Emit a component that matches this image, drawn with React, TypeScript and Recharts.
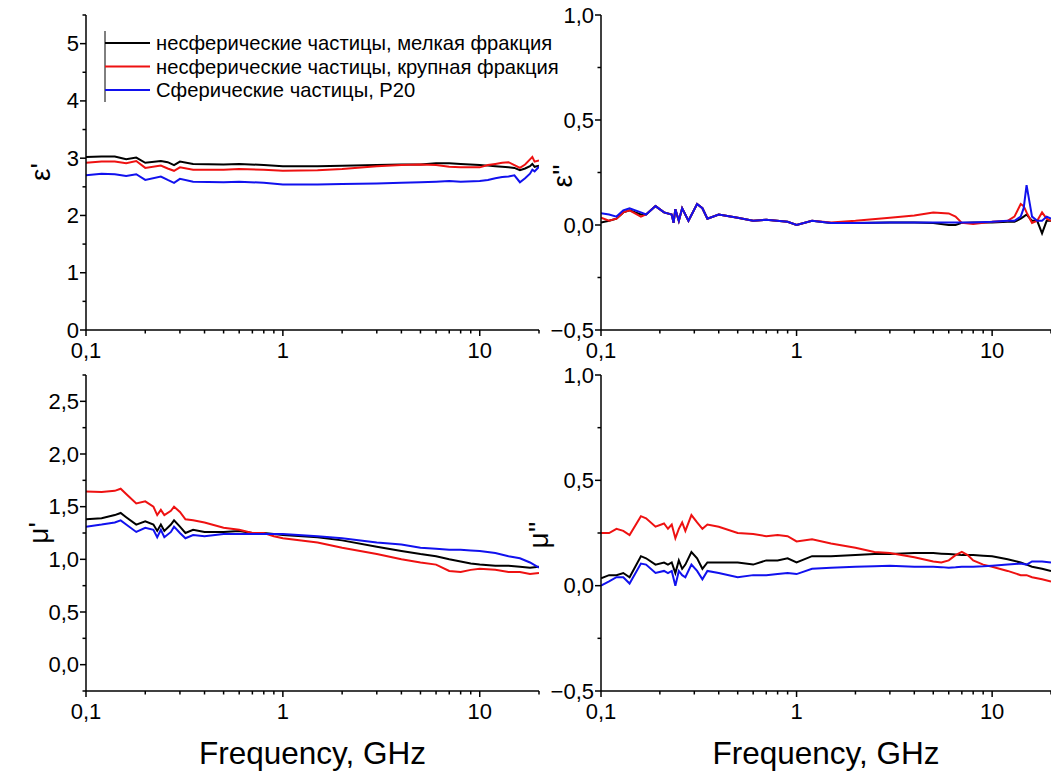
import { LineChart, Line, XAxis, YAxis, Legend } from 'recharts';

const FONT = '"Liberation Sans", Arial, sans-serif';
const W = 1051;
const H = 771;

const SERIES_NAMES = [
  'несферические частицы, мелкая фракция',
  'несферические частицы, крупная фракция',
  'Сферические частицы, P20',
];
const SERIES_COLORS = ['#000000', '#ee1111', '#1111ee'];

const X_MAJOR = [0.1, 1, 10];
const X_MINOR = [0.2, 0.3, 0.4, 0.5, 0.6, 0.7, 0.8, 0.9, 2, 3, 4, 5, 6, 7, 8, 9, 20];

// ε' (real permittivity)
const EPS1_FREQ = [0.1, 0.12, 0.14, 0.16, 0.18, 0.2, 0.24, 0.26, 0.28, 0.3, 0.35, 0.5, 0.6, 0.8, 1, 1.5, 2, 3, 4, 5, 6, 7, 8, 10, 11, 12, 13, 14, 15, 16, 17, 18, 18.5, 19, 20];
const EPS1_FINE = [3.02, 3.03, 3.03, 2.98, 3.01, 2.92, 2.95, 2.93, 2.88, 2.94, 2.9, 2.89, 2.9, 2.88, 2.86, 2.86, 2.87, 2.88, 2.89, 2.89, 2.91, 2.91, 2.9, 2.88, 2.87, 2.86, 2.85, 2.84, 2.83, 2.79, 2.82, 2.86, 2.9, 2.85, 2.87];
const EPS1_COARSE = [2.92, 2.94, 2.94, 2.91, 2.95, 2.83, 2.87, 2.82, 2.78, 2.84, 2.8, 2.8, 2.81, 2.8, 2.78, 2.79, 2.81, 2.86, 2.88, 2.89, 2.88, 2.85, 2.84, 2.84, 2.88, 2.9, 2.92, 2.93, 2.88, 2.83, 2.89, 2.98, 3.02, 2.94, 2.96];
const EPS1_SPHERE = [2.7, 2.73, 2.72, 2.69, 2.72, 2.62, 2.68, 2.62, 2.57, 2.64, 2.59, 2.58, 2.59, 2.57, 2.54, 2.54, 2.55, 2.56, 2.57, 2.58, 2.59, 2.6, 2.59, 2.6, 2.62, 2.65, 2.67, 2.68, 2.7, 2.58, 2.65, 2.73, 2.8, 2.77, 2.85];

// ε'' (imaginary permittivity)
const EPS2_FREQ = [0.1, 0.11, 0.12, 0.13, 0.14, 0.16, 0.17, 0.19, 0.21, 0.23, 0.235, 0.24, 0.25, 0.26, 0.28, 0.31, 0.33, 0.35, 0.4, 0.5, 0.6, 0.7, 0.9, 1, 1.2, 1.5, 2, 3, 4, 5, 6, 6.5, 7, 8, 10, 12, 13, 14, 14.5, 15, 16, 17, 18, 19, 20];
const EPS2_FINE = [0.012, 0.02, 0.03, 0.06, 0.07, 0.05, 0.05, 0.09, 0.06, 0.05, 0.01, 0.075, 0.02, 0.08, 0.02, 0.1, 0.08, 0.03, 0.05, 0.035, 0.02, 0.025, 0.015, 0.0, 0.02, 0.01, 0.01, 0.012, 0.012, 0.01, 0.0, 0.0, 0.01, 0.012, 0.012, 0.015, 0.015, 0.03, 0.04, 0.05, 0.02, 0.02, -0.04, 0.02, 0.02];
const EPS2_COARSE = [0.035, 0.02, 0.03, 0.06, 0.07, 0.04, 0.05, 0.09, 0.06, 0.05, 0.01, 0.075, 0.02, 0.08, 0.02, 0.1, 0.08, 0.03, 0.05, 0.035, 0.02, 0.025, 0.015, 0.0, 0.02, 0.012, 0.02, 0.035, 0.045, 0.06, 0.055, 0.04, 0.01, 0.005, 0.015, 0.02, 0.04, 0.1, 0.09, 0.06, 0.01, 0.02, 0.06, 0.03, 0.02];
const EPS2_SPHERE = [0.056, 0.05, 0.04, 0.07, 0.08, 0.06, 0.05, 0.09, 0.06, 0.05, 0.01, 0.075, 0.02, 0.08, 0.02, 0.1, 0.08, 0.03, 0.05, 0.035, 0.02, 0.025, 0.015, 0.0, 0.02, 0.01, 0.01, 0.012, 0.012, 0.012, 0.012, 0.012, 0.012, 0.012, 0.015, 0.02, 0.02, 0.04, 0.08, 0.19, 0.04, 0.02, 0.02, 0.04, 0.03];

// μ' (real permeability)
const MU1_FREQ = [0.1, 0.12, 0.14, 0.15, 0.16, 0.18, 0.2, 0.22, 0.23, 0.24, 0.25, 0.27, 0.28, 0.3, 0.32, 0.35, 0.4, 0.5, 0.6, 0.7, 0.8, 0.9, 1, 1.5, 2, 3, 4, 5, 6, 7, 8, 9, 10, 12, 14, 16, 18, 20];
const MU1_FINE = [1.38, 1.39, 1.42, 1.44, 1.4, 1.33, 1.36, 1.33, 1.27, 1.33, 1.27, 1.33, 1.37, 1.31, 1.25, 1.28, 1.26, 1.26, 1.27, 1.25, 1.25, 1.24, 1.23, 1.21, 1.18, 1.12, 1.08, 1.05, 1.03, 1.0, 0.98, 0.96, 0.95, 0.94, 0.94, 0.93, 0.92, 0.93];
const MU1_COARSE = [1.645, 1.64, 1.65, 1.67, 1.62, 1.53, 1.55, 1.5, 1.42, 1.47, 1.42, 1.46, 1.5, 1.45, 1.38, 1.37, 1.35, 1.3, 1.28, 1.25, 1.25, 1.22, 1.2, 1.16, 1.11, 1.05, 1.0, 0.97, 0.95, 0.89, 0.88, 0.9, 0.91, 0.9, 0.88, 0.88, 0.86, 0.87];
const MU1_SPHERE = [1.31, 1.33, 1.35, 1.37, 1.33, 1.26, 1.3, 1.28, 1.21, 1.28, 1.21, 1.26, 1.31, 1.25, 1.2, 1.23, 1.22, 1.24, 1.24, 1.24, 1.24, 1.24, 1.24, 1.22, 1.2, 1.16, 1.14, 1.11, 1.1, 1.09, 1.09, 1.085, 1.08, 1.06, 1.03, 1.01, 0.97, 0.92];

// μ'' (imaginary permeability)
const MU2_FREQ = [0.1, 0.11, 0.12, 0.13, 0.14, 0.16, 0.17, 0.19, 0.21, 0.22, 0.23, 0.24, 0.25, 0.26, 0.27, 0.29, 0.31, 0.33, 0.35, 0.4, 0.5, 0.6, 0.7, 0.8, 0.9, 1, 1.2, 1.5, 2, 2.5, 3, 4, 5, 5.5, 6, 6.5, 7, 7.5, 8, 9, 10, 12, 14, 15, 16, 18, 20];
const MU2_FINE = [0.035, 0.05, 0.05, 0.06, 0.04, 0.14, 0.13, 0.1, 0.11, 0.1, 0.11, 0.06, 0.12, 0.08, 0.1, 0.16, 0.13, 0.08, 0.11, 0.11, 0.11, 0.1, 0.12, 0.12, 0.13, 0.11, 0.14, 0.14, 0.145, 0.15, 0.15, 0.155, 0.155, 0.152, 0.15, 0.148, 0.145, 0.145, 0.145, 0.142, 0.14, 0.125, 0.11, 0.1, 0.09, 0.08, 0.07];
const MU2_COARSE = [0.25, 0.25, 0.27, 0.26, 0.24, 0.33, 0.32, 0.28, 0.295, 0.27, 0.29, 0.225, 0.27, 0.3, 0.26, 0.335, 0.3, 0.27, 0.29, 0.28, 0.25, 0.245, 0.235, 0.24, 0.235, 0.21, 0.22, 0.2, 0.18, 0.16, 0.155, 0.135, 0.115, 0.11, 0.12, 0.145, 0.16, 0.145, 0.12, 0.1, 0.09, 0.07, 0.05, 0.05, 0.04, 0.03, 0.02];
const MU2_SPHERE = [0.0, 0.02, 0.04, 0.04, 0.01, 0.105, 0.1, 0.06, 0.07, 0.06, 0.07, 0.0, 0.07, 0.05, 0.04, 0.1, 0.07, 0.03, 0.07, 0.06, 0.04, 0.05, 0.05, 0.055, 0.06, 0.055, 0.08, 0.085, 0.09, 0.092, 0.095, 0.09, 0.09, 0.088, 0.085, 0.087, 0.09, 0.09, 0.09, 0.092, 0.095, 0.1, 0.105, 0.1, 0.115, 0.115, 0.11];

interface Row {
  f: number;
  s0: number;
  s1: number;
  s2: number;
}

function buildRows(freq: number[], a: number[], b: number[], c: number[]): Row[] {
  return freq.map((f, i) => ({ f, s0: a[i], s1: b[i], s2: c[i] }));
}

function fmtX(v: number): string {
  return String(v).replace('.', ',');
}

function fmtY(v: number, digits: number): string {
  const s = Math.abs(v).toFixed(digits).replace('.', ',');
  return v < 0 ? `\u2212${s}` : s;
}

interface Plot {
  left: number;
  top: number;
  right: number;
  bottom: number;
}

function XTick(props: any) {
  const { x, payload, axisY } = props;
  const v = payload.value as number;
  const major = X_MAJOR.some((m) => Math.abs(m - v) < 1e-9);
  return (
    <g>
      <line x1={x} x2={x} y1={axisY} y2={axisY + (major ? 6 : 3.5)} stroke="#000" strokeWidth={1.5} />
      {major && (
        <text x={x} y={axisY + 28} textAnchor="middle" fontSize={22} fontFamily={FONT} fill="#000">
          {fmtX(v)}
        </text>
      )}
    </g>
  );
}

function YTick(props: any) {
  const { y, payload, axisX, majors, digits } = props;
  const v = payload.value as number;
  const major = (majors as number[]).some((m) => Math.abs(m - v) < 1e-9);
  return (
    <g>
      <line x1={axisX - (major ? 6 : 3.5)} x2={axisX} y1={y} y2={y} stroke="#000" strokeWidth={1.5} />
      {major && (
        <text x={axisX - 7} y={y} textAnchor="end" dominantBaseline="central" fontSize={22} fontFamily={FONT} fill="#000">
          {fmtY(v, digits)}
        </text>
      )}
    </g>
  );
}

function RotatedTitle({ text, cx, cy }: { text: string; cx: number; cy: number }) {
  return (
    <text
      x={cx}
      y={cy}
      transform={`rotate(-90 ${cx} ${cy})`}
      textAnchor="middle"
      dominantBaseline="central"
      fontSize={28}
      fontFamily={FONT}
      fill="#000"
    >
      {text}
    </text>
  );
}

function LegendBox() {
  const rows = [43, 66.5, 90];
  return (
    <svg width={600} height={110} style={{ display: 'block' }}>
      <line x1={105} x2={105} y1={31} y2={102} stroke="#000" strokeWidth={1} />
      {SERIES_NAMES.map((name, i) => (
        <g key={name}>
          <line x1={105} x2={150} y1={rows[i]} y2={rows[i]} stroke={SERIES_COLORS[i]} strokeWidth={2} />
          <text x={156} y={rows[i]} dominantBaseline="central" fontSize={20.2} fontFamily={FONT} fill="#000">
            {name}
          </text>
        </g>
      ))}
    </svg>
  );
}

interface PanelProps {
  data: Row[];
  plot: Plot;
  yDomain: [number, number];
  yMajor: number[];
  yMinor: number[];
  digits: number;
  yTitle: string;
  yTitlePos: [number, number];
  xTitle?: boolean;
  legend?: boolean;
}

function Panel({ data, plot, yDomain, yMajor, yMinor, digits, yTitle, yTitlePos, xTitle, legend }: PanelProps) {
  // axes get a 1px box (a zero-sized axis is not drawn)
  return (
    <div style={{ position: 'absolute', left: 0, top: 0 }}>
      <LineChart
        width={W}
        height={H}
        data={data}
        margin={{ top: plot.top, left: plot.left - 1, right: W - plot.right, bottom: H - plot.bottom - 1 }}
      >
        <XAxis
          dataKey="f"
          type="number"
          scale="log"
          domain={[0.1, 20]}
          allowDataOverflow
          ticks={[...X_MAJOR, ...X_MINOR]}
          interval={0}
          height={1}
          tickLine={false}
          axisLine={{ stroke: '#000', strokeWidth: 1.5 }}
          tick={(p: any) => <XTick {...p} axisY={plot.bottom} />}
          label={
            xTitle
              ? { value: 'Frequency, GHz', position: 'bottom', offset: 50, fontSize: 31.5, fill: '#000', fontFamily: FONT }
              : undefined
          }
        />
        <YAxis
          type="number"
          domain={yDomain}
          allowDataOverflow
          ticks={[...yMajor, ...yMinor]}
          interval={0}
          width={1}
          tickLine={false}
          axisLine={{ stroke: '#000', strokeWidth: 1.5 }}
          tick={(p: any) => <YTick {...p} axisX={plot.left} majors={yMajor} digits={digits} />}
          label={<RotatedTitle text={yTitle} cx={yTitlePos[0]} cy={yTitlePos[1]} />}
        />
        {legend && (
          <Legend
            layout="vertical"
            align="center"
            verticalAlign="middle"
            wrapperStyle={{ left: 0, top: 0, width: 600, height: 110 }}
            content={() => <LegendBox />}
          />
        )}
        {['s0', 's1', 's2'].map((k, i) => (
          <Line
            key={k}
            dataKey={k}
            name={SERIES_NAMES[i]}
            stroke={SERIES_COLORS[i]}
            strokeWidth={2}
            dot={false}
            type="linear"
            isAnimationActive={false}
          />
        ))}
      </LineChart>
    </div>
  );
}

export default function App() {
  return (
    <div
      style={{
        position: 'absolute',
        left: 0,
        top: 0,
        width: W,
        height: H,
        overflow: 'hidden',
        background: '#fff',
      }}
    >
      <Panel
        data={buildRows(EPS1_FREQ, EPS1_FINE, EPS1_COARSE, EPS1_SPHERE)}
        plot={{ left: 86, top: 15, right: 539, bottom: 330 }}
        yDomain={[0, 5.5]}
        yMajor={[0, 1, 2, 3, 4, 5]}
        yMinor={[0.5, 1.5, 2.5, 3.5, 4.5, 5.5]}
        digits={0}
        yTitle="ε'"
        yTitlePos={[40, 172]}
        legend
      />
      <Panel
        data={buildRows(EPS2_FREQ, EPS2_FINE, EPS2_COARSE, EPS2_SPHERE)}
        plot={{ left: 601, top: 15, right: 1051, bottom: 330 }}
        yDomain={[-0.5, 1.0]}
        yMajor={[-0.5, 0, 0.5, 1.0]}
        yMinor={[-0.25, 0.25, 0.75]}
        digits={1}
        yTitle="ε''"
        yTitlePos={[562, 176]}
      />
      <Panel
        data={buildRows(MU1_FREQ, MU1_FINE, MU1_COARSE, MU1_SPHERE)}
        plot={{ left: 86, top: 375, right: 539, bottom: 691 }}
        yDomain={[-0.25, 2.75]}
        yMajor={[0, 0.5, 1, 1.5, 2, 2.5]}
        yMinor={[-0.25, 0.25, 0.75, 1.25, 1.75, 2.25, 2.75]}
        digits={1}
        yTitle="μ'"
        yTitlePos={[38, 533]}
        xTitle
      />
      <Panel
        data={buildRows(MU2_FREQ, MU2_FINE, MU2_COARSE, MU2_SPHERE)}
        plot={{ left: 601, top: 375, right: 1051, bottom: 691 }}
        yDomain={[-0.5, 1.0]}
        yMajor={[-0.5, 0, 0.5, 1.0]}
        yMinor={[-0.25, 0.25, 0.75]}
        digits={1}
        yTitle="μ''"
        yTitlePos={[538, 535]}
        xTitle
      />
    </div>
  );
}
